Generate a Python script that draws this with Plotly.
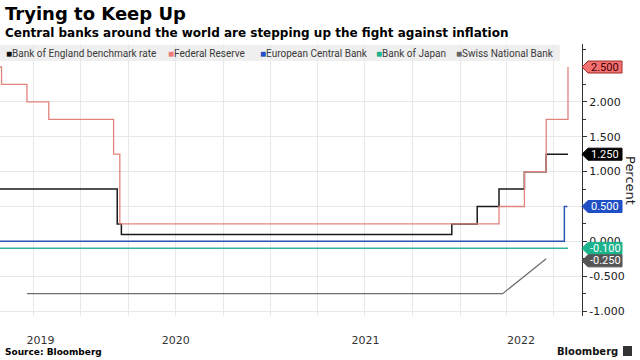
import pandas as pd
import plotly.graph_objects as go

# ---------------- data ----------------
boe_dates = ["2019-07-29", "2020-03-11", "2020-03-19", "2021-12-16", "2022-02-03",
             "2022-03-17", "2022-05-05", "2022-06-16", "2022-07-28"]
boe_rates = [0.75, 0.25, 0.10, 0.25, 0.50, 0.75, 1.00, 1.25, 1.25]

fed_dates = ["2019-07-29", "2019-08-01", "2019-09-19", "2019-10-31", "2020-03-04",
             "2020-03-16", "2022-03-17", "2022-05-05", "2022-06-16", "2022-07-28"]
fed_rates = [2.50, 2.25, 2.00, 1.75, 1.25, 0.25, 0.50, 1.00, 1.75, 2.50]

ecb_dates = ["2019-07-29", "2022-07-21", "2022-07-27"]
ecb_rates = [0.00, 0.50, 0.50]

boj_dates = ["2019-07-29", "2022-07-28"]
boj_rates = [-0.10, -0.10]

snb_dates = ["2019-09-19", "2019-12-12", "2020-03-19", "2020-06-18", "2020-09-24",
             "2020-12-17", "2021-03-25", "2021-06-17", "2021-09-23", "2021-12-16",
             "2022-03-24", "2022-06-16"]
snb_rates = [-0.75, -0.75, -0.75, -0.75, -0.75, -0.75, -0.75, -0.75, -0.75, -0.75,
             -0.75, -0.25]

series_names = ["Bank of England benchmark rate", "Federal Reserve",
                "European Central Bank", "Bank of Japan", "Swiss National Bank"]
y_ticks = [-1.0, -0.5, 0.0, 0.5, 1.0, 1.5, 2.0]
x_range = ["2019-07-29", "2022-08-24"]
y_range = [-1.07, 2.83]

# ---------------- styling ----------------
line_cols = ["#1a1a1a", "#e2837d", "#2b55b5", "#33b59b", "#6e6e6e"]
tag_fill = ["#000000", "#f37171", "#1f4fc4", "#1db38c", "#555555"]
tag_text = ["#ffffff", "#3d0000", "#ffffff", "#ffffff", "#ffffff"]
tag_line = ["#000000", "#a52a2a", "#1f4fc4", "#1db38c", "#555555"]
legend_cols = ["#111111", "#f07c7c", "#1f4fc4", "#1db38c", "#666666"]

W, H = 640, 360
ML, MR, MT, MB = 0, 58, 44, 44
PW, PH = W - ML - MR, H - MT - MB


def px_x(p):
    return (p - ML) / PW


def px_y(p):
    return (H - MB - p) / PH


all_dates = [boe_dates, fed_dates, ecb_dates, boj_dates, snb_dates]
all_rates = [boe_rates, fed_rates, ecb_rates, boj_rates, snb_rates]
shapes_line = ["hv", "hv", "hv", "hv", "linear"]
widths = [1.5, 1.3, 1.5, 1.5, 1.2]

fig = go.Figure()
for d, r, c, s, w, n in zip(all_dates, all_rates, line_cols, shapes_line, widths, series_names):
    fig.add_trace(go.Scatter(x=pd.to_datetime(d), y=r, mode="lines", name=n,
                             line=dict(color=c, width=w, shape=s),
                             showlegend=False, hoverinfo="skip"))

# year label positions: centre of the visible part of each year
r0, r1 = pd.Timestamp(x_range[0]), pd.Timestamp(x_range[1])
year_mids, year_txt = [], []
for yr in range(r0.year, r1.year + 1):
    a = max(pd.Timestamp(yr, 1, 1), r0)
    b = min(pd.Timestamp(yr + 1, 1, 1), r1)
    year_mids.append(a + (b - a) / 2)
    year_txt.append(str(yr))

fig.add_trace(go.Scatter(x=[year_mids[0]], y=[None], xaxis="x2", showlegend=False,
                         hoverinfo="skip", mode="lines"))

shapes = []
annotations = []

# legend strip
shapes.append(dict(type="rect", xref="paper", yref="paper", x0=px_x(0), x1=px_x(560),
                   y0=px_y(61), y1=px_y(45), fillcolor="#efefef", line=dict(width=0),
                   layer="below"))
leg_x = [4, 166, 258, 374, 454]
for name, col, lx in zip(series_names, legend_cols, leg_x):
    annotations.append(dict(
        xref="paper", yref="paper", x=px_x(lx), y=px_y(53), xanchor="left", yanchor="middle",
        text=f"<span style='color:{col}'>■</span>{name}", showarrow=False,
        font=dict(family="Roboto", size=10, color="#3a3a3a")))

# last-value tags on the right axis
last_vals = [r[-1] for r in all_rates]
order = sorted(range(5), key=lambda i: -last_vals[i])
unit_px = (y_range[1] - y_range[0]) / PH
sep = 12.5 * unit_px
tag_pos = {}
prev = None
for i in order:
    yv = last_vals[i]
    if prev is not None and prev - yv < sep:
        yv = prev - sep
    tag_pos[i] = yv
    prev = yv

# tick labels fully hidden behind a tag are left blank
tick_txt = []
for t in y_ticks:
    covered = any(abs(t - tag_pos[i]) < 3 * unit_px for i in range(5))
    tick_txt.append("" if covered else f"{t:.3f}")

for i in range(5):
    yc = tag_pos[i]
    shapes.append(dict(type="path", xref="paper", yref="y", xsizemode="pixel",
                       ysizemode="pixel", xanchor=1, yanchor=yc,
                       path="M0,0 L6,6 L40,6 L40,-6 L6,-6 Z",
                       fillcolor=tag_fill[i], line=dict(color=tag_line[i], width=1),
                       layer="above"))
    annotations.append(dict(xref="paper", yref="y", x=1, y=yc, xshift=23,
                            xanchor="center", yanchor="middle", showarrow=False,
                            text=f"{last_vals[i]:.3f}",
                            font=dict(family="Roboto", size=11, color=tag_text[i])))

# titles & footer
annotations += [
    dict(xref="paper", yref="paper", x=px_x(3), y=px_y(14), xanchor="left", yanchor="middle",
         text="<b>Trying to Keep Up</b>", showarrow=False,
         font=dict(family="DejaVu Sans", size=18, color="#000000")),
    dict(xref="paper", yref="paper", x=px_x(3), y=px_y(33), xanchor="left", yanchor="middle",
         text="<b>Central banks around the world are stepping up the fight against inflation</b>",
         showarrow=False, font=dict(family="DejaVu Sans", size=12, color="#000000")),
    dict(xref="paper", yref="paper", x=px_x(3), y=px_y(352), xanchor="left", yanchor="middle",
         text="<b>Source: Bloomberg</b>", showarrow=False,
         font=dict(family="DejaVu Sans", size=9, color="#000000")),
    dict(xref="paper", yref="paper", x=px_x(620), y=px_y(351), xanchor="right", yanchor="middle",
         text="<b>Bloomberg</b>", showarrow=False,
         font=dict(family="DejaVu Sans", size=10, color="#111111")),
    dict(xref="paper", yref="paper", x=px_x(631), y=0.5, xanchor="center", yanchor="middle",
         text="Percent", textangle=90, showarrow=False,
         font=dict(family="DejaVu Sans", size=13, color="#222222")),
]
shapes.append(dict(type="rect", xref="paper", yref="paper", x0=px_x(623), x1=px_x(632),
                   y0=px_y(356), y1=px_y(346), fillcolor="#333333", line=dict(width=0)))

fig.update_layout(
    width=W, height=H, margin=dict(l=ML, r=MR, t=MT, b=MB),
    paper_bgcolor="white", plot_bgcolor="white", showlegend=False,
    xaxis=dict(type="date", range=x_range, tick0="2019-01-01", dtick="M3",
               showticklabels=False, ticks="", showgrid=True, gridcolor="#e8e8e8",
               gridwidth=1, zeroline=False, showline=False),
    xaxis2=dict(type="date", overlaying="x", matches="x", anchor="y", side="bottom",
                tickmode="array", tickvals=year_mids, ticktext=year_txt, ticks="",
                showgrid=False, zeroline=False, showline=False, ticklabelstandoff=16,
                tickfont=dict(family="DejaVu Sans", size=11, color="#333333")),
    yaxis=dict(side="right", range=y_range, tickmode="array", tickvals=y_ticks,
               ticktext=tick_txt, ticks="outside", ticklen=4, tickcolor="#333333",
               showline=True, linecolor="#333333", linewidth=1, showgrid=True,
               gridcolor="#e8e8e8", zeroline=False,
               minor=dict(dtick=0.25, tick0=0, ticks="outside", ticklen=3,
                          tickcolor="#333333", showgrid=False),
               tickfont=dict(family="DejaVu Sans", size=11, color="#222222")),
    shapes=shapes, annotations=annotations,
)

fig.write_html("out.html", config={"displayModeBar": False},
               post_script="document.body.style.margin='0';document.body.style.overflow='hidden';")
